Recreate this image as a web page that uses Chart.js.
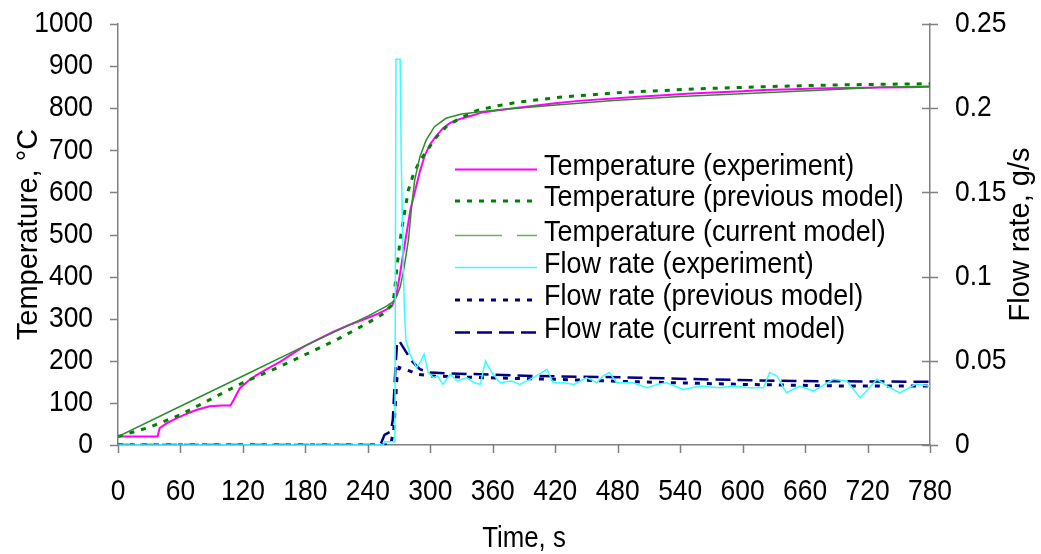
<!DOCTYPE html>
<html><head><meta charset="utf-8">
<script src="https://cdn.jsdelivr.net/npm/chart.js@4.4.1/dist/chart.umd.min.js"></script>
<style>html,body{margin:0;padding:0;background:#fff}canvas{display:block}</style>
</head><body>
<canvas id="c" width="1041" height="554"></canvas>
<script>
// ---------- data ----------
const timeTicks = [0,60,120,180,240,300,360,420,480,540,600,660,720,780];
const tempTicks = [0,100,200,300,400,500,600,700,800,900,1000];
const flowTicks = [0,0.05,0.1,0.15,0.2,0.25];
const flowTickLabels = ['0','0.05','0.1','0.15','0.2','0.25'];

const xTitle = 'Time, s';
const yTitle = 'Temperature, \u00B0C';
const y1Title = 'Flow rate, g/s';

const tExpTime = [0,38,40,47,55,63,75,88,100,108,111,117,125,133,145,156,167,178,192,207,222,239,250,258,263,266,268,271,274,277,281,285,290,295,300,306,312,319,328,338,350,365,380,400,420,445,476,500,524,550,572,600,620,650,668,700,732,760,780];
const tExp     = [20,20,40,52,62,71,83,92,94,94,107,135,152,166,183,198,216,233,251,269,285,301,312,322,330,345,365,408,455,500,560,600,650,690,715,735,752,765,774,781,790,795,800,806,812,818,823,827,831,835,837,840,843,845,847,848,849,850,851];

const tPrevTime = [0,30,60,90,120,150,180,210,240,255,262,265,268,271,274,279,284,290,297,306,316,330,345,365,386,428,482,556,620,684,740,780];
const tPrev     = [20,42,72,110,148,180,215,250,290,312,330,352,423,487,534,606,645,675,700,732,758,778,795,806,815,827,837,846,851,855,857,858];

const tCurTime = [0,60,120,180,240,258,264,268,271,274,276,279,282,285,290,296,304,315,330,350,380,424,476,540,604,668,732,780];
const tCur     = [20,92,164,236,306,330,340,355,375,410,440,487,566,629,685,724,756,776,786,792,799,808,818,828,835,842,850,852];

const fExpTime = [0,255,256,266,267,271,272,273.5,275,276.6,280.5,287,291,294,298,303,307,312,319,326,335,342,348,353,359,367,378,386,399,412,418,428,438,450,460,466,472,479,495,508,518,527,543,559,578,591,607,620,626,633,642,655,668,687,700,713,729,739,751,766,780];
const fExp     = [0,0,0.002,0.002,0.229,0.229,0.173,0.122,0.082,0.062,0.054,0.046,0.05,0.054,0.043,0.04,0.041,0.036,0.042,0.038,0.04,0.037,0.036,0.05,0.043,0.037,0.038,0.036,0.04,0.045,0.037,0.037,0.036,0.04,0.037,0.041,0.043,0.037,0.037,0.034,0.036,0.037,0.033,0.035,0.034,0.035,0.034,0.034,0.043,0.041,0.031,0.035,0.032,0.039,0.038,0.028,0.039,0.035,0.031,0.036,0.035];

const fPrevTime = [0,262,265,268,270,275,280,288,300,350,420,500,600,700,780];
const fPrev     = [0,0,0.01,0.04,0.046,0.045,0.044,0.042,0.041,0.04,0.039,0.0375,0.036,0.035,0.035];

const fCurTime = [0,252,256,262,264,266,268,270,274,278,282,290,300,320,400,500,560,650,700,780];
const fCur     = [0,0,0.006,0.008,0.015,0.04,0.06,0.062,0.058,0.054,0.05,0.045,0.043,0.0425,0.041,0.040,0.039,0.038,0.0378,0.0375];

const seriesLabels = ['Temperature (experiment)','Temperature (previous model)','Temperature (current model)','Flow rate (experiment)','Flow rate (previous model)','Flow rate (current model)'];

const pts = (xs, ys) => xs.map((x, i) => ({x: x, y: ys[i]}));

// ---------- text condensing (the original uses a narrow sans face) ----------
const condense = new Map();
timeTicks.forEach(v => condense.set(String(v), 0.88));
tempTicks.forEach(v => condense.set(String(v), 0.88));
flowTickLabels.forEach(v => condense.set(v, 0.88));
condense.set(xTitle, 0.86);
seriesLabels.forEach(v => condense.set(v, 0.93));
const origFill = CanvasRenderingContext2D.prototype.fillText;
CanvasRenderingContext2D.prototype.fillText = function (text, x, y) {
  const sx = condense.get(String(text)) || 1;
  if (sx === 1) return origFill.call(this, text, x, y);
  this.save();
  this.translate(x, y);
  this.scale(sx, 1);
  origFill.call(this, text, 0, 0);
  this.restore();
};

const FONT = "'Liberation Sans',Arial,sans-serif";
Chart.defaults.font.family = FONT;
Chart.defaults.color = '#000';
const AX = '#808080';
const NOCOLOR = 'rgba(0,0,0,0)';

const datasets = [
  {label: seriesLabels[3], data: pts(fExpTime, fExp), yAxisID: 'y1', borderColor: '#33ffff', borderWidth: 1.5, legendDash: []},
  {label: seriesLabels[4], data: pts(fPrevTime, fPrev), yAxisID: 'y1', borderColor: '#000080', borderWidth: 3, borderDash: [5, 7], legendDash: [5, 7]},
  {label: seriesLabels[5], data: pts(fCurTime, fCur), yAxisID: 'y1', borderColor: '#000080', borderWidth: 2.5, borderDash: [15, 7], legendDash: [15, 7]},
  {label: seriesLabels[2], data: pts(tCurTime, tCur), yAxisID: 'y', borderColor: '#2e8b2e', borderWidth: 1.5, legendDash: [47, 15], legendColor: '#66b266'},
  {label: seriesLabels[1], data: pts(tPrevTime, tPrev), yAxisID: 'y', borderColor: '#008000', borderWidth: 3, borderDash: [5, 7], legendDash: [5, 7]},
  {label: seriesLabels[0], data: pts(tExpTime, tExp), yAxisID: 'y', borderColor: '#ff00ff', borderWidth: 2, legendDash: []}
];
const legendOrder = [5, 4, 3, 0, 1, 2];

const overlay = {
  id: 'overlay',
  afterDraw(chart) {
    const ctx = chart.ctx;
    const ca = chart.chartArea;
    const {x, y, y1} = chart.scales;
    ctx.save();
    ctx.strokeStyle = AX; ctx.lineWidth = 1.5;
    ctx.beginPath();
    y.ticks.forEach(t => {
      const p = Math.round(y.getPixelForValue(t.value)) + 0.5;
      ctx.moveTo(ca.left - 8, p); ctx.lineTo(ca.left, p);
    });
    y1.ticks.forEach(t => {
      const p = Math.round(y1.getPixelForValue(t.value)) + 0.5;
      ctx.moveTo(ca.right - 8, p); ctx.lineTo(ca.right + 8, p);
    });
    x.ticks.forEach(t => {
      const p = Math.round(x.getPixelForValue(t.value)) + 0.5;
      ctx.moveTo(p, ca.bottom); ctx.lineTo(p, ca.bottom + 8);
    });
    ctx.stroke();
    // right axis title (reads bottom to top)
    ctx.fillStyle = '#000';
    ctx.font = '29px ' + FONT;
    ctx.textAlign = 'center'; ctx.textBaseline = 'middle';
    ctx.translate(1021, (ca.top + ca.bottom) / 2);
    ctx.rotate(-Math.PI / 2);
    ctx.fillText(y1Title, 0, 0);
    ctx.restore();
    // legend
    ctx.save();
    const rows = [169.5, 201, 235.5, 267.5, 300, 332.5];
    ctx.font = '29px ' + FONT;
    ctx.textAlign = 'left'; ctx.textBaseline = 'middle';
    legendOrder.forEach((di, r) => {
      const ds = chart.data.datasets[di];
      const ry = rows[r];
      ctx.strokeStyle = ds.legendColor || ds.borderColor;
      ctx.lineWidth = ds.borderWidth;
      ctx.setLineDash(ds.legendDash || []);
      ctx.beginPath(); ctx.moveTo(455, ry); ctx.lineTo(537, ry); ctx.stroke();
      ctx.setLineDash([]);
      ctx.fillStyle = '#000';
      ctx.fillText(ds.label, 544, ry - 3);
    });
    ctx.restore();
  }
};

new Chart(document.getElementById('c'), {
  type: 'line',
  data: {datasets: datasets},
  options: {
    responsive: false,
    animation: false,
    devicePixelRatio: 1,
    layout: {padding: {top: 24, right: 0, bottom: 0, left: 0}},
    plugins: {legend: {display: false}, tooltip: {enabled: false}},
    elements: {point: {radius: 0}, line: {tension: 0, fill: false}},
    scales: {
      x: {
        type: 'linear', min: 0, max: 780,
        afterBuildTicks: s => { s.ticks = timeTicks.map(v => ({value: v})); },
        ticks: {font: {size: 30}, padding: 0, maxRotation: 0, autoSkip: false, callback: v => String(v)},
        grid: {drawOnChartArea: false, tickLength: 29, tickColor: NOCOLOR},
        border: {color: AX, width: 1.5},
        title: {display: true, text: xTitle, font: {size: 30, lineHeight: 1.0}, padding: {top: 0, bottom: 0}},
        afterFit: s => { s.height = 109; }
      },
      y: {
        type: 'linear', position: 'left', min: 0, max: 1000,
        afterBuildTicks: s => { s.ticks = tempTicks.map(v => ({value: v})); },
        ticks: {font: {size: 30}, padding: 0, autoSkip: false, callback: v => String(v)},
        grid: {drawOnChartArea: false, tickLength: 25, tickColor: NOCOLOR},
        border: {color: AX, width: 1.5},
        title: {display: true, text: yTitle, font: {size: 29}, padding: {top: 12, bottom: 0}},
        afterFit: s => { s.width = 118; }
      },
      y1: {
        type: 'linear', position: 'right', min: 0, max: 0.25,
        afterBuildTicks: s => { s.ticks = flowTicks.map(v => ({value: v})); },
        ticks: {font: {size: 30}, padding: 0, autoSkip: false,
          callback: (v, i) => flowTickLabels[i]},
        grid: {drawOnChartArea: false, tickLength: 25, tickColor: NOCOLOR},
        border: {color: AX, width: 1.5},
        afterFit: s => { s.width = 111; }
      }
    }
  },
  plugins: [overlay]
});
</script>
</body></html>
